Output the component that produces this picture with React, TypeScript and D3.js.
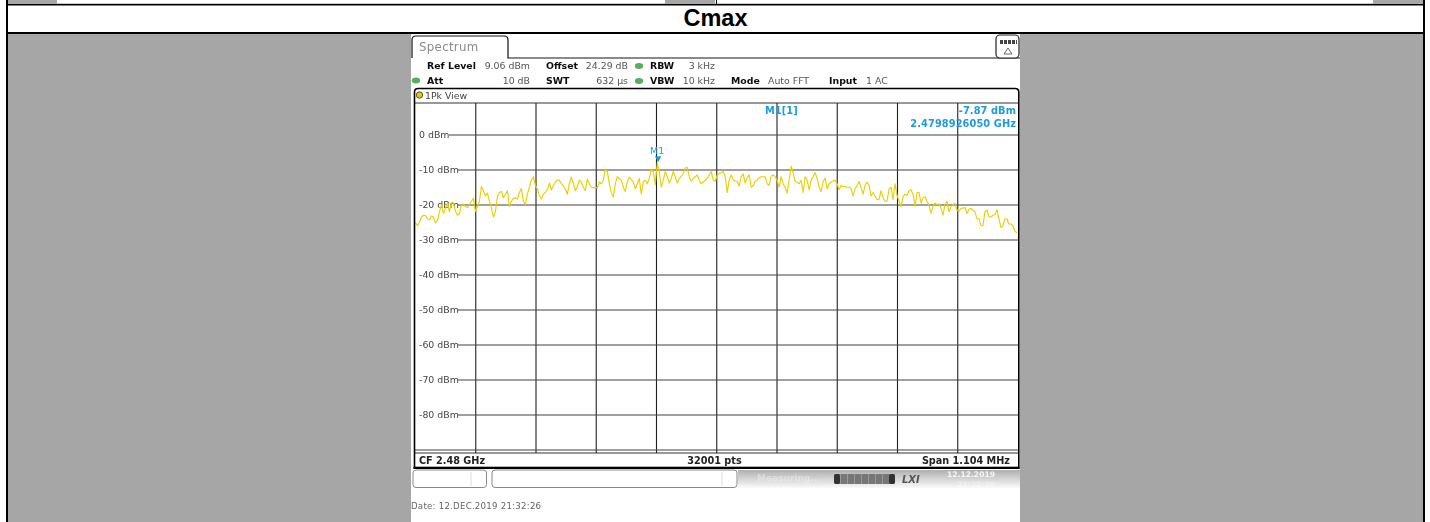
import React from "react";
import * as d3 from "d3";

const levelTicks = [0, -10, -20, -30, -40, -50, -60, -70, -80];
const gridLevels = [-10, -20, -30, -40, -50, -60, -70, -80, -90, 0];
const centerMHz = 2480;
const spanMHz = 1.104;
const refLevel = 9.06;
const divisions = [1, 2, 3, 4, 5, 6, 7, 8, 9];
const markerFreqMHz = 2479.892605;
const markerLevel = -7.87;

const traceLeft = [
  -25.2,-26,-25,-23.5,-23,-23.1,-24,-24.3,-23.2,-23.5,-25.2,-24.5,-22,-20,-22.5,-21,-19.5,-22,-19.3,-19.5,
  -21.9,-23,-22.5,-20,-19.8,-20.5,-20.8,-20,-19,-18.1,-21.9,-20.5,-19,-14.8,-16,-17.5,-16.7,-19,-21,-23.5,
  -22,-17.6,-16.5,-16.2,-18,-17,-16,-20.5,-19,-18.2,-18,-18.4,-16.5,-15.4,-19,-20,-17,-15,-13,-12,
  -14.5,-15.5,-17.5,-18.4,-17,-16.5,-15.7,-13.8,-15.8,-14.5,-13.5,-12.9,-13,-14,-14.6,-15.5,-17,-14,-12.1,-14,
  -16,-14.8,-13,-13.5,-15,-16,-12.7,-14,-15,-15.2,-15,-15.2,-13.5,-14,-13,-10,-10.5,-14,-16.5,-17.8,
  -14,-12,-12.5,-13,-15,-16.2,-13.5,-12.1,-12.8,-13.5,-15.5,-14,-12.5,-17,-13.5,-13,-14,-12.5,-10,-10.5,
  -14.3,-8.1,-10.5,-15,-13,-10.5,-12,-13.8,-12.5,-10.5,-12,-13.8,-12.5,-12,-11,-9.5,-9.3,-12,-13.3,-12.5,
  -12,-11.5,-13,-14,-13.5,-13,-12.5,-11.5,-10.5,-13,-13.3,-11.5,-11,
];
const traceRight = [
  -10.9,-10.5,-11.9,-16.5,-13,-11.5,-12.8,-13.3,-13.3,-14.7,-12,-11.2,-13.8,-12.2,-11.5,-15,-14.5,-13.3,-13,-12.3,
  -12,-12,-12,-14,-14.5,-11.8,-11.5,-12,-13,-15,-12,-14,-15,-16.7,-13,-9,-11,-13.3,-13.6,-14,
  -13,-16.5,-12,-13,-15.7,-13,-12,-10.8,-12.5,-15,-16.2,-13.5,-12.4,-15.5,-14,-13.5,-13.2,-13,-14,-15.7,
  -14.5,-14.8,-14.8,-15,-15,-15.3,-17.5,-15.5,-14.5,-13.4,-15,-17,-14.5,-13.5,-14.5,-17.5,-16.5,-17.5,-18.5,-18.5,
  -16,-18,-19,-19,-15.5,-15,-18.5,-14,-17.3,-19,-20.5,-17.7,-17,-17.3,-16,-15.7,-17,-20.5,-16.5,-16.5,
  -19.5,-18,-17.7,-19,-20,-22.5,-20.5,-19.5,-20,-19.7,-21,-23,-20,-19,-22,-20.5,-20,-19.6,-21.5,-22,
  -21,-21,-20.8,-22.5,-21.3,-21,-21.5,-22,-24,-24,-26,-26,-22,-21.5,-23.5,-23.5,-23,-22.8,-21.5,-24,
  -26.5,-26,-24,-24,-25.5,-25.5,-26,-27.5,-28,
];
const traceLevels = [...traceLeft, ...traceRight];

const headerLabels = [
  { t: "Ref Level", x: 427, y: 69 },
  { t: "Offset", x: 546, y: 69 },
  { t: "RBW", x: 650, y: 69 },
  { t: "Att", x: 427, y: 84 },
  { t: "SWT", x: 546, y: 84 },
  { t: "VBW", x: 650, y: 84 },
  { t: "Mode", x: 731, y: 84 },
  { t: "Input", x: 829, y: 84 },
];
const headerValues = [
  { t: "9.06 dBm", x: 530, y: 69, a: "end" },
  { t: "24.29 dB", x: 628, y: 69, a: "end" },
  { t: "3 kHz", x: 715, y: 69, a: "end" },
  { t: "10 dB", x: 530, y: 84, a: "end" },
  { t: "632 µs", x: 628, y: 84, a: "end" },
  { t: "10 kHz", x: 715, y: 84, a: "end" },
  { t: "Auto FFT", x: 768, y: 84, a: "start" },
  { t: "1 AC", x: 866, y: 84, a: "start" },
];
const leds = [
  { x: 639, y: 66 },
  { x: 639, y: 81 },
  { x: 416, y: 80.5 },
];
const topGrayStrips = [
  [8, 57],
  [665, 715],
  [1373, 1423],
];

const FONT = "'DejaVu Sans', sans-serif";
const BLUE = "#1b9be0";

export default function App() {
  const x = d3
    .scaleLinear()
    .domain([centerMHz - spanMHz / 2, centerMHz + spanMHz / 2])
    .range([415.5, 1018]);
  const y = d3.scaleLinear().domain([refLevel, refLevel - 100]).range([103, 453]);
  const freqOf = d3
    .scaleLinear()
    .domain([0, traceLevels.length - 1])
    .range([centerMHz - spanMHz / 2, centerMHz + spanMHz / 2 - 0.002]);
  const line = d3
    .line<number>()
    .x((_, i) => x(freqOf(i)))
    .y((d) => y(d));
  const mx = x(markerFreqMHz);
  const my = y(markerLevel);
  const divX = (k: number) => x(centerMHz - spanMHz / 2 + (spanMHz * k) / 10);

  return (
    <svg
      width={1430}
      height={522}
      viewBox="0 0 1430 522"
      style={{ position: "absolute", left: 0, top: 0, display: "block" }}
      fontFamily={FONT}
    >
      <defs>
        <linearGradient id="status" x1="0" y1="0" x2="0" y2="1">
          <stop offset="0" stopColor="#b0b0b0" />
          <stop offset="1" stopColor="#fafafa" />
        </linearGradient>
        <filter id="soft" x="-5%" y="-5%" width="110%" height="110%">
          <feGaussianBlur stdDeviation="0.3" />
        </filter>
      </defs>
      <rect width={1430} height={522} fill="#fff" />
      {/* page table */}
      <rect x={7} y={33} width={1417} height={489} fill="#a6a6a6" />
      <rect x={8} y={3} width={1415} height={1} fill="#c8c8c8" />
      {topGrayStrips.map(([a, b]) => (
        <rect key={a} x={a} y={0} width={b - a} height={4} fill="#a6a6a6" />
      ))}
      <rect x={6} y={0} width={2} height={522} fill="#000" />
      <rect x={1423} y={0} width={2} height={522} fill="#000" />
      <rect x={716} y={0} width={1} height={4} fill="#000" />
      <rect x={6} y={4} width={1419} height={1.5} fill="#000" />
      <rect x={6} y={32} width={1419} height={2} fill="#000" />
      <text
        x={715.5}
        y={26}
        textAnchor="middle"
        fontFamily="'Liberation Sans', Arial, sans-serif"
        fontWeight="bold"
        fontSize={23.5}
        fill="#000"
      >
        Cmax
      </text>

      {/* screenshot */}
      <rect x={411} y={34} width={609} height={488} fill="#fff" />
      <g filter="url(#soft)">
        <path
          d="M412,58 V40 Q412,36 416,36 H504 Q508,36 508,40 V58 H1020"
          fill="none"
          stroke="#111"
          strokeWidth={1.2}
        />
        <text x={419} y={51} fontSize={11.8} fill="#8a8a8a" letterSpacing={0.3}>
          Spectrum
        </text>
        <rect x={996} y={35} width={23} height={23} rx={4} fill="#fff" stroke="#222" strokeWidth={1.2} />
        <line x1={1000} x2={1017} y1={42} y2={42} stroke="#444" strokeWidth={4} strokeDasharray="3,1" />
        <path d="M1008,48 L1012,54 H1004 Z" fill="none" stroke="#666" />

        {headerLabels.map((d) => (
          <text key={d.t} x={d.x} y={d.y} fontSize={9.4} fontWeight="bold" fill="#111">
            {d.t}
          </text>
        ))}
        {headerValues.map((d) => (
          <text key={d.t} x={d.x} y={d.y} fontSize={9.4} textAnchor={d.a} fill="#555">
            {d.t}
          </text>
        ))}
        {leds.map((d) => (
          <ellipse key={d.x + "-" + d.y} cx={d.x} cy={d.y} rx={4.2} ry={3} fill="#58ad62" />
        ))}

        <text x={425} y={98.5} fontSize={9.4} fill="#444">
          1Pk View
        </text>
        <circle cx={419.5} cy={95} r={3.2} fill="#e8c800" stroke="#333" strokeWidth={0.8} />
      </g>

      {/* grid */}
      <g filter="url(#soft)">
        <line x1={415} x2={1018} y1={103} y2={103} stroke="#333" strokeWidth={1} />
        <line x1={415} x2={1018} y1={453} y2={453} stroke="#333" strokeWidth={1} />
        {divisions.map((k) => (
          <line key={k} x1={divX(k)} x2={divX(k)} y1={103} y2={453} stroke="#222" strokeWidth={1.1} />
        ))}
        {gridLevels.map((v) => {
          const hasLabel = levelTicks.includes(v);
          const start = v === 0 ? 449 : hasLabel ? 458 : 415;
          return <line key={v} x1={start} x2={1018} y1={y(v) + 0.3} y2={y(v) + 0.3} stroke="#444" strokeWidth={1.1} />;
        })}
        {levelTicks.map((v) => (
          <text key={v} x={419} y={y(v) + 3.3} fontSize={9.4} fill="#444">
            {v} dBm
          </text>
        ))}

        {/* trace */}
        <path d={line(traceLevels) ?? ""} fill="none" stroke="#e9d000" strokeWidth={1.15} strokeLinejoin="round" />

        {/* marker */}
        <path d={`M${mx},${my} L${mx - 3.2},${my - 6} H${mx + 3.2} Z`} fill={BLUE} />
        <text x={mx - 1} y={154} textAnchor="middle" fontSize={9.4} fill={BLUE}>
          M1
        </text>
        <text x={765} y={114} fontSize={9.8} fontWeight="bold" fill={BLUE} letterSpacing={0.1}>
          M1[1]
        </text>
        <text x={1016} y={114} textAnchor="end" fontSize={9.8} fontWeight="bold" fill={BLUE} letterSpacing={0.1}>
          -7.87 dBm
        </text>
        <text x={1016} y={127} textAnchor="end" fontSize={9.8} fontWeight="bold" fill={BLUE} letterSpacing={0.1}>
          2.4798926050 GHz
        </text>
      </g>

      {/* frame on top */}
      <path
        d="M414.5,468 V92 Q414.5,88.5 418,88.5 H1015 Q1018.8,88.5 1018.8,92 V468 Z"
        fill="none"
        stroke="#000"
        strokeWidth={1.6}
      />
      <rect x={413.5} y={466.7} width={606} height={2.3} fill="#000" />

      {/* footer */}
      <g filter="url(#soft)">
        <text x={419} y={464} fontSize={9.7} fontWeight="bold" fill="#222">
          CF 2.48 GHz
        </text>
        <text x={714.5} y={464} textAnchor="middle" fontSize={9.7} fontWeight="bold" fill="#222">
          32001 pts
        </text>
        <text x={1010} y={464} textAnchor="end" fontSize={9.7} fontWeight="bold" fill="#222">
          Span 1.104 MHz
        </text>
      </g>

      {/* status bar */}
      <g filter="url(#soft)">
        <rect x={738} y={470} width={282} height={18} fill="url(#status)" />
        <rect x={413} y={470} width={73.5} height={17.5} rx={3} fill="#fff" stroke="#888" />
        <rect x={492} y={470} width={245} height={17.5} rx={3} fill="#fff" stroke="#888" />
        <line x1={471} x2={471} y1={472} y2={486} stroke="#ddd" />
        <line x1={722} x2={722} y1={472} y2={486} stroke="#ddd" />
        <text x={757} y={481} fontSize={9} fontWeight="bold" fill="#fff" opacity={0.35}>
          Measuring...
        </text>
        <rect x={834} y={474} width={61} height={10} rx={2} fill="#777" />
        <line x1={840} x2={889} y1={479} y2={479} stroke="#999" strokeWidth={10} strokeDasharray="1,6" />
        <rect x={834} y={474} width={6} height={10} rx={2} fill="#333" />
        <rect x={889} y={474} width={6} height={10} rx={2} fill="#333" />
        <text x={902} y={483} fontSize={10} fontWeight="bold" fontStyle="italic" fill="#555">
          LXI
        </text>
        <text x={995} y={477} textAnchor="end" fontSize={7.6} fontWeight="bold" fill="#fff" opacity={0.85}>
          12.12.2019
        </text>
        <text x={995} y={487} textAnchor="end" fontSize={7.6} fontWeight="bold" fill="#fff" opacity={0.4}>
          21:32:26
        </text>
        <text x={411} y={509} fontSize={8.6} fill="#666" letterSpacing={0.25}>
          Date: 12.DEC.2019  21:32:26
        </text>
      </g>
    </svg>
  );
}
